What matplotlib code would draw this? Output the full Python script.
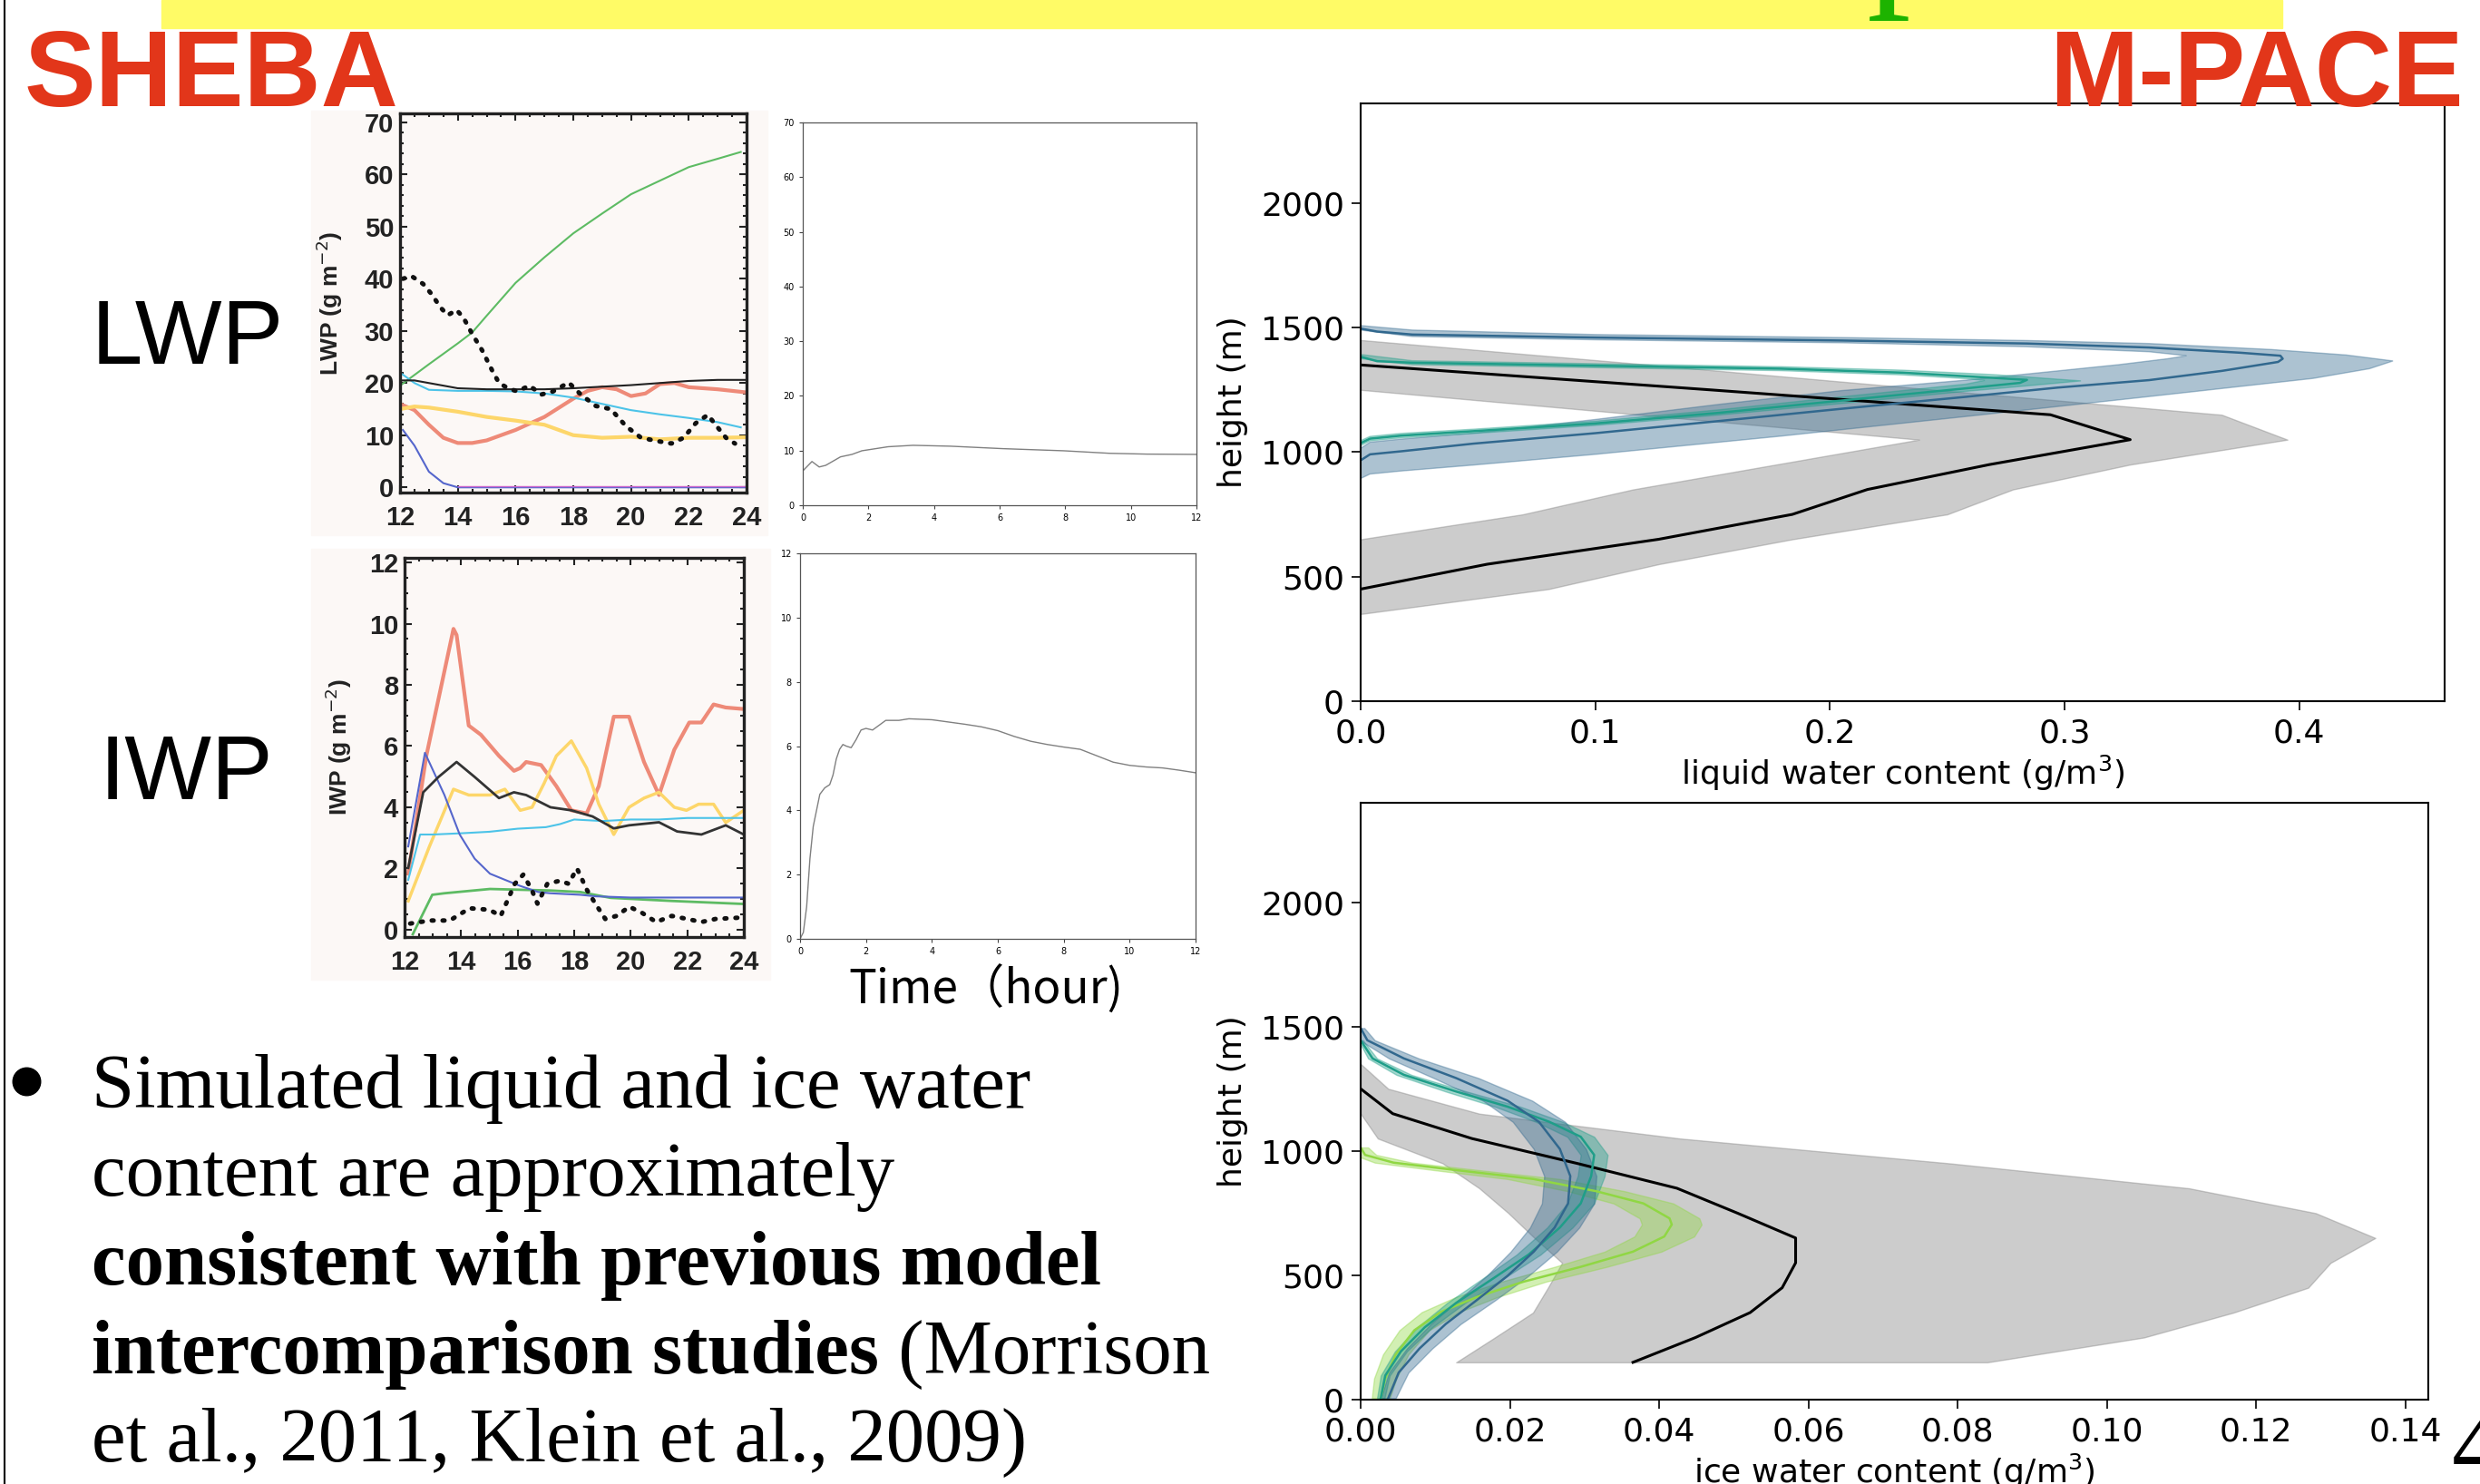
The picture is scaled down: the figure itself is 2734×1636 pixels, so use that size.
import numpy as np
import matplotlib
matplotlib.use("Agg")
import matplotlib.pyplot as plt
from matplotlib.patches import Rectangle
from matplotlib.lines import Line2D
from matplotlib.ticker import MultipleLocator

# --- SHEBA LWP (hours 12-24) ---
lwp_green_t = [12, 13, 14, 14.5, 15, 16, 17, 18, 19, 20, 21, 22, 23, 23.8]
lwp_green = [19.5, 23.6, 27.6, 29.7, 32.9, 39.2, 44.1, 48.7, 52.5, 56.2, 58.8, 61.4, 63.0, 64.3]
lwp_obs_t = [12.1, 12.4, 12.8, 13.1, 13.4, 13.65, 13.96, 14.2, 14.48, 14.85, 15.2, 15.43, 15.74,
             16.06, 16.48, 16.9, 17.3, 17.84, 18.26, 18.78, 19.3, 19.83, 20.35, 20.88, 21.4,
             21.82, 22.24, 22.66, 22.97, 23.29, 23.6]
lwp_obs = [40, 40.5, 39, 37, 34.5, 33, 34, 32.5, 29.6, 26.2, 22.3, 20, 19, 18.4, 19.5, 17.8,
           18.4, 20.1, 17.8, 15.6, 15, 11.7, 9.5, 8.9, 8.4, 9.5, 12.3, 13.9, 11.7, 9.5, 8.4]
lwp_black_t = [12, 12.5, 13, 13.5, 14, 15, 16, 17, 18, 19, 20, 21, 22, 23, 24]
lwp_black = [20.5, 20.5, 20, 19.5, 19, 18.8, 18.8, 18.8, 19.0, 19.3, 19.6, 20.0, 20.4, 20.6, 20.6]
lwp_cyan_t = [12, 12.5, 13, 14, 15, 16, 17, 18, 19, 20, 21, 22, 23, 23.8]
lwp_cyan = [22, 20, 18.7, 18.5, 18.5, 18.4, 18.0, 17.2, 16.0, 14.8, 14.0, 13.3, 12.5, 11.5]
lwp_red_t = [12, 12.5, 13, 13.5, 14, 14.5, 15, 16, 17, 18, 18.5, 19, 19.5, 20, 20.5, 21, 21.5, 22, 23, 24]
lwp_red = [16, 14.8, 12, 9.5, 8.5, 8.5, 9, 11, 13.5, 17, 18.5, 19.2, 18.8, 17.5, 18, 19.8, 20, 19.2, 18.8, 18.2]
lwp_yellow_t = [12, 12.5, 13, 14, 15, 16, 17, 17.5, 18, 19, 20, 21, 22, 23, 24]
lwp_yellow = [15, 15.5, 15.3, 14.5, 13.5, 12.8, 12, 11, 10, 9.5, 9.7, 9.2, 9.5, 9.5, 9.6]
lwp_blue_t = [12.1, 12.5, 13, 13.5, 14, 24]
lwp_blue = [11, 8, 3, 0.8, 0, 0]

# --- SHEBA IWP ---
iwp_red_t = [12.13, 12.77, 13.73, 13.84, 14.27, 14.7, 15.34, 15.87, 16.09, 16.3, 16.83, 17.37, 17.9,
             18.44, 18.87, 19.4, 19.94, 20.47, 21.0, 21.54, 22.07, 22.5, 22.93, 23.36, 24.0]
iwp_red = [1.83, 5.68, 9.83, 9.63, 6.67, 6.37, 5.68, 5.19, 5.28, 5.48, 5.38, 4.69, 3.9, 3.8, 4.69,
           6.96, 6.96, 5.48, 4.4, 5.88, 6.77, 6.77, 7.36, 7.26, 7.21]
iwp_yellow_t = [12.13, 12.88, 13.73, 14.27, 15.02, 15.55, 16.09, 16.51, 16.94, 17.37, 17.9, 18.44,
                18.87, 19.4, 19.94, 20.47, 21.0, 21.54, 21.97, 22.4, 22.93, 23.36, 24.0]
iwp_yellow = [0.94, 2.72, 4.59, 4.4, 4.4, 4.59, 3.9, 4.0, 4.79, 5.68, 6.17, 5.28, 4.1, 3.11, 4.0,
              4.3, 4.49, 4.0, 3.9, 4.1, 4.1, 3.5, 3.9]
iwp_black_t = [12.13, 12.66, 13.2, 13.84, 14.48, 15.34, 15.87, 16.3, 17.16, 17.9, 18.65, 19.4,
               19.94, 21.0, 21.64, 22.5, 23.36, 24.0]
iwp_black = [2.02, 4.49, 4.99, 5.48, 4.99, 4.3, 4.49, 4.4, 4.0, 3.9, 3.7, 3.31, 3.41, 3.51, 3.21,
             3.11, 3.41, 3.11]
iwp_cyan_t = [12.13, 12.55, 13, 14, 15, 16, 17, 17.5, 18, 19, 20, 21, 22, 23, 24]
iwp_cyan = [1.63, 3.11, 3.11, 3.15, 3.2, 3.3, 3.35, 3.45, 3.6, 3.55, 3.6, 3.6, 3.65, 3.65, 3.65]
iwp_blue_t = [12.13, 12.72, 13.41, 13.95, 14.48, 15.02, 15.55, 16.09, 16.73, 17.16, 18.22, 18.76, 20, 24]
iwp_blue = [2.72, 5.78, 4.4, 3.11, 2.32, 1.83, 1.63, 1.43, 1.23, 1.19, 1.14, 1.09, 1.05, 1.05]
iwp_green_t = [12.29, 12.98, 13.41, 15.02, 17.16, 18.22, 19.29, 21.43, 24.0]
iwp_green = [-0.15, 1.14, 1.19, 1.33, 1.28, 1.23, 1.04, 0.94, 0.84]
iwp_obs_t = [12.2, 12.9, 13.6, 14.3, 15.0, 15.4, 15.9, 16.2, 16.5, 16.7, 17.05, 17.5, 17.8, 18.1,
             18.45, 18.75, 19.1, 19.5, 19.95, 20.4, 20.9, 21.45, 22.0, 22.5, 23.0, 24.0]
iwp_obs = [0.2, 0.3, 0.3, 0.7, 0.65, 0.45, 1.5, 1.8, 1.3, 0.85, 1.5, 1.6, 1.5, 2.0, 1.3, 0.85,
           0.35, 0.45, 0.75, 0.55, 0.25, 0.45, 0.35, 0.25, 0.35, 0.4]

# --- simulated time series (hours 0-12) ---
sim_lwp_t = [0, 0.0, 0.02, 0.28, 0.5, 0.7, 1.15, 1.5, 1.8, 2.6, 3.36, 4.5, 6.1, 7.96, 9.35, 10.5, 12.0]
sim_lwp = [0, 6.4, 6.4, 8.0, 7.0, 7.3, 8.85, 9.3, 9.96, 10.7, 10.96, 10.8, 10.35, 9.96, 9.5, 9.35, 9.3]
sim_iwp_t = [0, 0.1, 0.2, 0.3, 0.4, 0.5, 0.6, 0.75, 0.9, 1.0, 1.1, 1.2, 1.3, 1.4, 1.55, 1.7, 1.85,
             2.0, 2.2, 2.4, 2.6, 3.0, 3.3, 4.0, 4.5, 5.0, 5.5, 6.0, 6.5, 7.0, 7.5, 8.0, 8.5, 9.0,
             9.5, 10.0, 10.5, 11.0, 11.5, 12.0]
sim_iwp = [0, 0.2, 1.0, 2.5, 3.5, 4.0, 4.5, 4.7, 4.8, 5.1, 5.6, 5.9, 6.05, 6.0, 5.95, 6.2, 6.5,
           6.55, 6.5, 6.65, 6.8, 6.8, 6.85, 6.82, 6.75, 6.68, 6.6, 6.48, 6.3, 6.15, 6.05, 5.97,
           5.9, 5.7, 5.5, 5.4, 5.35, 5.32, 5.25, 5.17]

# --- M-PACE liquid water content ---
lwc_obs_h = [1450, 1350, 1250, 1150, 1050, 950, 850, 750, 650, 550, 450, 350]
lwc_obs_max = [0.0, 0.124, 0.245, 0.367, 0.395, 0.328, 0.278, 0.250, 0.184, 0.127, 0.080, 0.0]
lwc_obs_min = [0.0, 0.0, 0.0, 0.119, 0.238, 0.177, 0.116, 0.069, 0.0, 0.0, 0.0, 0.0]
lwc_mean_h = [1350, 1250, 1150, 1050, 950, 850, 750, 650, 550, 450]
lwc_mean = [0.0, 0.149, 0.294, 0.328, 0.268, 0.216, 0.184, 0.127, 0.054, 0.0]

lwc_blue_h = [1496, 1484, 1472, 1460, 1448, 1436, 1420, 1399, 1387, 1375, 1362, 1326, 1289, 1259,
              1222, 1174, 1125, 1076, 1034, 1003, 991, 967]
lwc_blue = [0, 0.007, 0.022, 0.10, 0.205, 0.284, 0.336, 0.375, 0.392, 0.393, 0.391, 0.367, 0.336,
            0.297, 0.258, 0.205, 0.153, 0.10, 0.048, 0.017, 0.004, 0]
lwc_blue_hi_h = [1508, 1490, 1472, 1460, 1448, 1436, 1412, 1390, 1366, 1335, 1296, 1223, 1143, 1064,
                 991, 948, 924, 912, 894]
lwc_blue_hi = [0, 0.022, 0.10, 0.205, 0.284, 0.336, 0.388, 0.42, 0.44, 0.43, 0.406, 0.336, 0.258,
               0.179, 0.10, 0.048, 0.017, 0.004, 0]
lwc_blue_lo_h = [1490, 1464, 1451, 1439, 1423, 1403, 1387, 1375, 1351, 1326, 1289, 1247, 1192, 1131,
                 1076, 1052, 1040, 1015]
lwc_blue_lo = [0, 0.022, 0.10, 0.205, 0.284, 0.336, 0.352, 0.344, 0.323, 0.297, 0.258, 0.205, 0.153,
               0.10, 0.048, 0.017, 0.004, 0]

lwc_teal_h = [1383, 1365, 1359, 1347, 1335, 1319, 1298, 1290, 1278, 1256, 1207, 1158, 1115, 1084,
              1066, 1054, 1036]
lwc_teal = [0, 0.007, 0.022, 0.10, 0.179, 0.231, 0.27, 0.284, 0.281, 0.258, 0.205, 0.153, 0.10,
            0.048, 0.017, 0.004, 0]
lwc_teal_hi_h = [1392, 1367, 1355, 1343, 1329, 1311, 1286, 1266, 1244, 1195, 1149, 1107, 1075, 1057,
                 1045, 1026]
lwc_teal_hi = [0, 0.022, 0.10, 0.179, 0.231, 0.27, 0.307, 0.284, 0.258, 0.205, 0.153, 0.10, 0.048,
               0.017, 0.004, 0]
lwc_teal_lo_h = [1375, 1351, 1339, 1327, 1310, 1295, 1288, 1273, 1222, 1170, 1124, 1092, 1075, 1063, 1046]
lwc_teal_lo = [0, 0.022, 0.10, 0.179, 0.231, 0.258, 0.266, 0.258, 0.205, 0.153, 0.10, 0.048, 0.017,
               0.004, 0]

# --- M-PACE ice water content ---
iwc_obs_h = [1350, 1250, 1150, 1050, 950, 850, 750, 650, 550, 450, 350, 250, 150]
iwc_obs_max = [0.0, 0.0037, 0.0159, 0.0428, 0.079, 0.111, 0.128, 0.136, 0.130, 0.127, 0.117, 0.105, 0.084]
iwc_obs_min = [0.0, 0.0, 0.0, 0.0023, 0.011, 0.0159, 0.0198, 0.0233, 0.027, 0.0251, 0.0231, 0.018, 0.0128]
iwc_mean_h = [1250, 1150, 1050, 950, 850, 750, 650, 550, 450, 350, 250, 150]
iwc_mean = [0.0, 0.0043, 0.0149, 0.029, 0.0424, 0.0505, 0.0583, 0.0583, 0.0565, 0.0522, 0.0449, 0.0365]

iwc_blue_h = [1494, 1445, 1372, 1293, 1202, 1117, 1008, 899, 789, 692, 595, 498, 401, 304, 206, 109, 6]
iwc_blue = [0, 0.0009, 0.0058, 0.0128, 0.0197, 0.0239, 0.0267, 0.0281, 0.0278, 0.026, 0.0232,
            0.0197, 0.0156, 0.0114, 0.0079, 0.0051, 0.0037]
iwc_blue_spread = [0.0005, 0.001, 0.002, 0.003, 0.0033, 0.0035, 0.0035, 0.0035, 0.0035, 0.0033,
                   0.0031, 0.0028, 0.0025, 0.002, 0.0017, 0.0013, 0.001]
iwc_teal_h = [1445, 1372, 1306, 1239, 1178, 1117, 1057, 984, 899, 789, 692, 583, 486, 389, 291, 194, 97, 6]
iwc_teal = [0, 0.0016, 0.0058, 0.0128, 0.0197, 0.0253, 0.0295, 0.0313, 0.0309, 0.0295, 0.0267,
            0.0225, 0.0177, 0.0128, 0.0086, 0.0054, 0.0033, 0.0027]
iwc_teal_spread = [0.0003, 0.0006, 0.001, 0.0014, 0.0017, 0.0018, 0.0018, 0.0018, 0.0018, 0.0018,
                   0.0017, 0.0016, 0.0014, 0.0012, 0.001, 0.0008, 0.0006, 0.0005]
iwc_green_h = [1014, 984, 953, 923, 887, 838, 789, 729, 704, 656, 595, 534, 474, 413, 352, 279, 182, 85, 6]
iwc_green = [0, 0.0006, 0.0044, 0.0128, 0.0232, 0.0316, 0.0379, 0.0414, 0.0417, 0.0407, 0.0365,
             0.0295, 0.0218, 0.0156, 0.0107, 0.0072, 0.0047, 0.0033, 0.0027]
iwc_green_spread = [0.001, 0.0015, 0.0025, 0.003, 0.0035, 0.0038, 0.004, 0.004, 0.004, 0.004, 0.0038,
                    0.0035, 0.003, 0.0028, 0.0025, 0.002, 0.0017, 0.0015, 0.0012]

bullet_lines = ["Simulated liquid and ice water", "content are approximately",
                "consistent with previous model", "intercomparison studies", " (Morrison",
                "et al., 2011, Klein et al., 2009)"]

# --- figure ---
W, H = 2734, 1636
fig = plt.figure(figsize=(W / 100, H / 100), dpi=100)


def box(l, t, r, b):
    return [l / W, 1 - b / H, (r - l) / W, (b - t) / H]


def fy(py):
    return 1 - py / H


red_title = '#E2361A'
panel_bg = '#FCF8F6'
c_blue, c_teal, c_green = '#31688e', '#1f9e89', '#90d743'

# banner, frame line, titles
fig.add_artist(Rectangle((178 / W, fy(31)), (2516 - 178) / W, 31 / H, transform=fig.transFigure,
                         color='#FFFB66', zorder=0))
fig.text(2058 / W, fy(-19), 'p', color='#1DB300', fontsize=140, family='Liberation Serif',
         ha='left', va='baseline')
fig.add_artist(Line2D([5 / W, 5 / W], [0, 1], color='black', lw=1.5))
fig.text(27 / W, fy(117), 'SHEBA', color=red_title, fontsize=85, weight='bold',
         family='Liberation Sans', ha='left', va='baseline')
fig.text(2716 / W, fy(117), 'M-PACE', color=red_title, fontsize=85, weight='bold',
         family='Liberation Sans', ha='right', va='baseline')
fig.text(101 / W, fy(375), 'LWP', fontsize=73, family='Liberation Sans', ha='left', va='center')
fig.text(110 / W, fy(855), 'IWP', fontsize=73, family='Liberation Sans', ha='left', va='center')

# scanned-paper backgrounds
for l, t, r, b in [(343, 122, 846, 590), (343, 605, 849, 1080)]:
    fig.add_artist(Rectangle((l / W, fy(b)), (r - l) / W, (b - t) / H, transform=fig.transFigure,
                             color=panel_bg, zorder=-1))


def style_sheba(ax, ylim, yticks, yminor, ylabel, lab_x):
    ax.set_facecolor(panel_bg)
    ax.set_xlim(12, 24)
    ax.set_ylim(*ylim)
    ax.set_xticks(range(12, 25, 2))
    ax.set_xticklabels([str(v) for v in range(12, 25, 2)], fontweight='bold', family='Liberation Sans')
    ax.set_yticks(yticks)
    ax.set_yticklabels([str(v) for v in yticks], fontweight='bold', family='Liberation Sans')
    ax.xaxis.set_minor_locator(MultipleLocator(0.5))
    ax.yaxis.set_minor_locator(MultipleLocator(yminor))
    ax.tick_params(which='both', direction='in', top=True, right=True, color='#222',
                   labelcolor='#222', width=1.5, labelsize=21)
    ax.tick_params(which='major', length=6)
    ax.tick_params(which='minor', length=3)
    ax.tick_params(axis='x', pad=10)
    ax.tick_params(axis='y', pad=5)
    for s in ax.spines.values():
        s.set_linewidth(2.4)
        s.set_color('#222')
    ax.set_ylabel(ylabel, fontsize=19, fontweight='bold', family='Liberation Sans', color='#222')
    ax.yaxis.set_label_coords(lab_x, 0.5)


# --- SHEBA LWP ---
ax1 = fig.add_axes(box(441, 125, 823, 543))
ax1.plot(lwp_green_t, lwp_green, color='#5DBB63', lw=1.5)
ax1.plot(lwp_red_t, lwp_red, color='#EE8A78', lw=3)
ax1.plot(lwp_yellow_t, lwp_yellow, color='#FDD66A', lw=3)
ax1.plot(lwp_cyan_t, lwp_cyan, color='#4CC3E8', lw=1.5)
ax1.plot(lwp_black_t, lwp_black, color='#222222', lw=1.5)
ax1.plot(lwp_blue_t, lwp_blue, color='#5566CC', lw=1.5)
ax1.plot([14, 24], [0.3, 0.3], color='#CC66CC', lw=1)
ax1.plot(lwp_obs_t, lwp_obs, color='#111111', lw=3.6, ls=(0, (0.4, 2.0)), dash_capstyle='round')
style_sheba(ax1, (-1, 71.7), list(range(0, 71, 10)), 2, 'LWP (g m$^{-2}$)', -0.16)

# --- SHEBA IWP ---
ax2 = fig.add_axes(box(446, 615, 820, 1033))
ax2.plot(iwp_red_t, iwp_red, color='#EE8A78', lw=3)
ax2.plot(iwp_yellow_t, iwp_yellow, color='#FDD66A', lw=2.5)
ax2.plot(iwp_cyan_t, iwp_cyan, color='#4CC3E8', lw=1.5)
ax2.plot(iwp_green_t, iwp_green, color='#5DBB63', lw=2)
ax2.plot(iwp_blue_t, iwp_blue, color='#5566CC', lw=1.5)
ax2.plot(iwp_black_t, iwp_black, color='#333333', lw=2)
ax2.plot(iwp_obs_t, iwp_obs, color='#111111', lw=3.6, ls=(0, (0.4, 2.0)), dash_capstyle='round')
style_sheba(ax2, (-0.24, 12.15), list(range(0, 13, 2)), 0.5, 'IWP (g m$^{-2}$)', -0.15)


# --- simulated time series ---
def style_small(ax, ymax, ystep):
    ax.set_xlim(0, 12)
    ax.set_ylim(0, ymax)
    ax.set_xticks(range(0, 13, 2))
    ax.set_yticks(range(0, ymax + 1, ystep))
    ax.tick_params(labelsize=7, length=3, width=0.8, color='#444')
    for s in ax.spines.values():
        s.set_linewidth(0.9)
        s.set_color('#555')


ax3 = fig.add_axes(box(885, 135, 1319, 557))
ax3.plot(sim_lwp_t, sim_lwp, color='#808080', lw=1.0)
style_small(ax3, 70, 10)

ax4 = fig.add_axes(box(882, 610, 1318, 1035))
ax4.plot(sim_iwp_t, sim_iwp, color='#808080', lw=1.0)
style_small(ax4, 12, 2)
fig.text(1087 / W, fy(1092), 'Time（hour)', ha='center', va='center', fontsize=37,
         family=['Noto Sans CJK JP', 'DejaVu Sans'])


# --- M-PACE profiles ---
def style_profile(ax, xlim, xlabel):
    ax.set_xlim(*xlim)
    ax.set_ylim(0, 2400)
    ax.set_yticks([0, 500, 1000, 1500, 2000])
    ax.tick_params(labelsize=26, length=7, width=1.2, pad=6)
    for s in ax.spines.values():
        s.set_linewidth(1.5)
    ax.set_ylabel('height (m)', fontsize=26, labelpad=10)
    ax.set_xlabel(xlabel, fontsize=26, labelpad=4)


ax5 = fig.add_axes(box(1500, 114, 2695, 773))
ax5.fill_betweenx(lwc_obs_h, lwc_obs_min, lwc_obs_max, color='gray', alpha=0.4, lw=1)
ax5.plot(lwc_mean, lwc_mean_h, color='black', lw=2.2)
ax5.fill(lwc_blue_hi + lwc_blue_lo[::-1], lwc_blue_hi_h + lwc_blue_lo_h[::-1],
         color=c_blue, alpha=0.4, lw=1)
ax5.plot(lwc_blue, lwc_blue_h, color=c_blue, lw=1.8)
ax5.fill(lwc_teal_hi + lwc_teal_lo[::-1], lwc_teal_hi_h + lwc_teal_lo_h[::-1],
         color=c_teal, alpha=0.4, lw=1)
ax5.plot(lwc_teal, lwc_teal_h, color=c_teal, lw=1.8)
style_profile(ax5, (0, 0.462), 'liquid water content (g/m$^3$)')
ax5.set_xticks([0.0, 0.1, 0.2, 0.3, 0.4])

ax6 = fig.add_axes(box(1500, 885, 2677, 1543))
ax6.fill_betweenx(iwc_obs_h, iwc_obs_min, iwc_obs_max, color='gray', alpha=0.4, lw=1)
ax6.plot(iwc_mean, iwc_mean_h, color='black', lw=2.2)
for xs, hs, sp, c in [(iwc_green, iwc_green_h, iwc_green_spread, c_green),
                      (iwc_teal, iwc_teal_h, iwc_teal_spread, c_teal),
                      (iwc_blue, iwc_blue_h, iwc_blue_spread, c_blue)]:
    xs, sp = np.array(xs), np.array(sp)
    ax6.fill_betweenx(hs, xs - sp, xs + sp, color=c, alpha=0.4, lw=1)
    ax6.plot(xs, hs, color=c, lw=1.8)
style_profile(ax6, (0, 0.1431), 'ice water content (g/m$^3$)')
ax6.set_xticks([0.0, 0.02, 0.04, 0.06, 0.08, 0.10, 0.12, 0.14])
ax6.set_xticklabels(['0.00', '0.02', '0.04', '0.06', '0.08', '0.10', '0.12', '0.14'])

# slide number, cut by the right edge
fig.text(2703 / W, fy(1630), '4', fontsize=82, family='Liberation Serif', ha='left', va='baseline')

# --- bullet text ---
serif = 'Liberation Serif'
fs = 61
baselines = [1221, 1318, 1416, 1514, 1611]
fig.add_artist(Line2D([29 / W], [fy(1192)], marker='o', markersize=22, color='black', lw=0))
fig.text(101 / W, fy(baselines[0]), bullet_lines[0], fontsize=fs, family=serif, va='baseline')
fig.text(101 / W, fy(baselines[1]), bullet_lines[1], fontsize=fs, family=serif, va='baseline')
fig.text(101 / W, fy(baselines[2]), bullet_lines[2], fontsize=fs, family=serif, weight='bold',
         va='baseline')
t_bold = fig.text(101 / W, fy(baselines[3]), bullet_lines[3], fontsize=fs, family=serif,
                  weight='bold', va='baseline')
renderer = fig.canvas.get_renderer()
bb = t_bold.get_window_extent(renderer=renderer)
fig.text(bb.x1 / W, fy(baselines[3]), bullet_lines[4], fontsize=fs, family=serif, va='baseline')
fig.text(101 / W, fy(baselines[4]), bullet_lines[5], fontsize=fs, family=serif, va='baseline')

fig.savefig('out.png', dpi=100)
